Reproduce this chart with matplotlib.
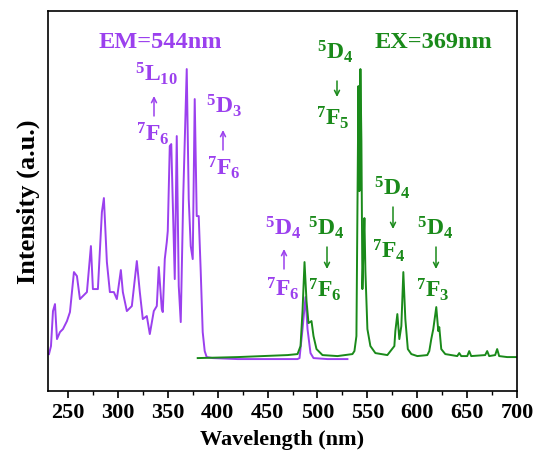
import numpy as np
import matplotlib
matplotlib.use("Agg")
import matplotlib.pyplot as plt

plt.rcParams['font.family'] = ['Liberation Serif', 'DejaVu Serif']
plt.rcParams['font.weight'] = 'bold'
plt.rcParams['mathtext.fontset'] = 'custom'
plt.rcParams['mathtext.rm'] = 'Liberation Serif:bold'
plt.rcParams['mathtext.it'] = 'Liberation Serif:bold'
plt.rcParams['mathtext.bf'] = 'Liberation Serif:bold'
plt.rcParams['mathtext.default'] = 'rm'

PURPLE = '#9B40EE'
GREEN = '#1A8A1A'

ex_wl = [231, 233, 235, 237, 239, 242, 245, 249, 252, 256, 259, 262, 265, 269,
         273, 275, 280, 284, 286, 289, 292, 296, 299, 303, 305, 309, 314, 319,
         322, 325, 329, 332, 336, 339, 341, 344, 345, 347, 349, 350, 352, 353.5,
         357, 359, 361, 363, 365.5, 369, 371, 373, 375, 377, 379, 381, 383, 385,
         387, 389, 395, 420, 460, 480, 482, 485, 488, 490, 493, 496, 510, 530]
ex_int = [37, 45, 80, 87, 52, 59, 62, 70, 79, 119, 115, 92, 95, 99,
          145, 102, 102, 179, 193, 129, 99, 99, 92, 121, 99, 80, 85, 130,
          99, 72, 75, 57, 80, 85, 124, 82, 79, 132, 149, 160, 245, 247,
          112, 255, 105, 69, 195, 322, 192, 145, 132, 292, 175, 175, 120, 59,
          40, 34, 33, 32, 32, 32, 33, 62, 94, 62, 38, 33, 32, 32]

# emission spectrum (excited at 369 nm)
em_wl = [380, 420, 470, 480, 483, 485, 487, 489, 491, 494, 496, 499, 505, 520,
         535, 537, 539, 541, 542, 543, 544, 545, 546, 547, 548, 550, 553, 558,
         570, 577, 578, 580, 582, 584, 586, 588, 590.5, 594, 600, 610, 612, 614,
         616, 619, 621, 622, 624, 628, 640, 642, 644, 650, 652, 654, 668, 670,
         672, 678, 680, 682, 690, 700]
em_int = [33, 34, 36, 37, 45, 80, 129, 90, 68, 70, 55, 42, 36, 35,
          37, 40, 55, 305, 200, 322, 250, 102, 140, 173, 120, 62, 45, 38,
          36, 45, 60, 77, 52, 65, 119, 72, 42, 37, 35, 36, 40, 52,
          62, 84, 60, 64, 42, 37, 35, 38, 35, 35, 40, 35, 36, 40,
          35, 36, 42, 35, 34, 34]

xticks = [250, 300, 350, 400, 450, 500, 550, 600, 650, 700]

fig = plt.figure(figsize=(5.38, 4.64), dpi=100)
ax = fig.add_axes([0.0892, 0.155, 0.872, 0.819])

ax.plot(ex_wl, ex_int, color=PURPLE, lw=1.4)
ax.plot(em_wl, em_int, color=GREEN, lw=1.4)

ax.set_xlim(230, 700)
ax.set_ylim(0, 380)
ax.set_xticks(xticks)
ax.set_xticks(np.arange(275, 700, 50), minor=True)
ax.set_yticks([])
ax.tick_params(axis='x', which='major', direction='out', length=5, width=1.2,
               labelsize=16, pad=3)
ax.tick_params(axis='x', which='minor', direction='out', length=3, width=1.0)
for lab in ax.get_xticklabels():
    lab.set_fontweight('bold')
for s in ax.spines.values():
    s.set_linewidth(1.2)

ax.set_xlabel('Wavelength (nm)', fontsize=16, fontweight='bold', labelpad=5)
ax.set_ylabel('Intensity (a.u.)', fontsize=19, fontweight='bold', labelpad=6)

fs = 17


def put(px, py, s, c, size=fs):
    # px, py: pixel position in the 538x464 picture, measured from top-left
    fig.text(px / 538, 1 - py / 464, s, color=c, fontsize=size,
             fontweight='bold', ha='center', va='center')


def arrow(px, y0, y1, c):
    ax.annotate('', xy=(px, 464 - y1), xytext=(px, 464 - y0),
                xycoords='figure pixels', textcoords='figure pixels',
                arrowprops=dict(arrowstyle='->', color=c, lw=1.1,
                                mutation_scale=9, shrinkA=0, shrinkB=0))


put(160, 43, 'EM=544nm', PURPLE, 17.5)
put(156, 74, r'$^{5}$L$_{10}$', PURPLE)
arrow(154, 117, 97, PURPLE)
put(153, 134, r'$^{7}$F$_{6}$', PURPLE)
put(224, 106, r'$^{5}$D$_{3}$', PURPLE)
arrow(223, 151, 131, PURPLE)
put(224, 168, r'$^{7}$F$_{6}$', PURPLE)
put(283, 228, r'$^{5}$D$_{4}$', PURPLE)
arrow(284, 270, 250, PURPLE)
put(283, 289, r'$^{7}$F$_{6}$', PURPLE)

put(433, 43, 'EX=369nm', GREEN, 17.5)
put(335, 52, r'$^{5}$D$_{4}$', GREEN)
arrow(337, 82, 98, GREEN)
put(333, 118, r'$^{7}$F$_{5}$', GREEN)
put(392, 188, r'$^{5}$D$_{4}$', GREEN)
arrow(393, 208, 230, GREEN)
put(389, 251, r'$^{7}$F$_{4}$', GREEN)
put(326, 228, r'$^{5}$D$_{4}$', GREEN)
arrow(327, 248, 270, GREEN)
put(325, 290, r'$^{7}$F$_{6}$', GREEN)
put(435, 228, r'$^{5}$D$_{4}$', GREEN)
arrow(436, 248, 270, GREEN)
put(433, 290, r'$^{7}$F$_{3}$', GREEN)

fig.savefig('out.png', dpi=100)
